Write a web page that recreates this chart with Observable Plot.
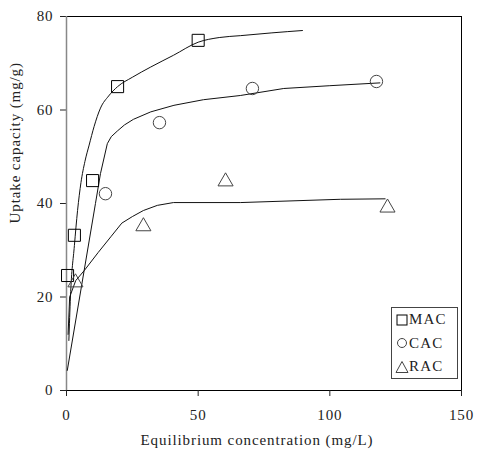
<!DOCTYPE html>
<html>
<head>
<meta charset="utf-8">
<script src="https://cdn.jsdelivr.net/npm/d3@7"></script>
<script src="https://cdn.jsdelivr.net/npm/@observablehq/plot@0.6"></script>
<style>
  html, body { margin: 0; padding: 0; background: white; }
  #wrap { position: relative; width: 477px; height: 452px; font-family: "Liberation Serif", "Times New Roman", serif; }
  #wrap svg text { letter-spacing: 0.9px; }
  #legend { position: absolute; left: 391px; top: 307px; width: 65px; height: 70px; border: 1px solid #444; background: white; font-size: 15px; color: #222; letter-spacing: 1.2px; }
  .row { display: flex; align-items: center; height: 23.5px; padding-left: 3px; }
  .row svg { margin-right: 0px; }
</style>
</head>
<body>
<div id="wrap"></div>
<script>
// ---- data ----
const xTicks = [0, 50, 100, 150];
const yTicks = [0, 20, 40, 60, 80];
const seriesNames = ["MAC", "CAC", "RAC"];

// experimental points
const macC = [0.4, 3, 9.9, 19.4, 50];
const macQ = [24.6, 33.2, 44.9, 65, 74.9];
const cacC = [14.8, 35.3, 70.6, 117.7];
const cacQ = [42.1, 57.3, 64.6, 66.1];
const racC = [3.4, 29.2, 60.4, 121.9];
const racQ = [23.1, 35.1, 44.7, 39.1];

// fitted curves
const macFitC = [0.9, 1.5, 3, 4.2, 5.5, 7, 8.6, 10.5, 12.9, 16, 19.4, 25, 32, 40.6, 50, 58, 66, 78, 89.6];
const macFitQ = [10.7, 20, 31, 38.5, 44.5, 49, 52.5, 56.5, 60.4, 63, 65, 67, 69.2, 71.7, 74.5, 75.5, 75.9, 76.5, 77];
const cacFitC = [0.3, 11, 12.9, 15.5, 17, 19.3, 22, 25.4, 32, 40.8, 52, 66, 82.5, 100, 119];
const cacFitQ = [4.3, 40, 46.4, 52.8, 54.3, 55.5, 56.8, 58, 59.6, 61, 62.2, 63.1, 64.6, 65.2, 65.8];
const racFitC = [0.6, 1.2, 3.5, 6.8, 12, 17, 21, 25, 29.2, 34.5, 40.6, 66, 104, 121];
const racFitQ = [12, 20, 23.5, 25.7, 29.5, 33, 35.8, 37.2, 38.5, 39.6, 40.2, 40.2, 40.9, 41];

const xLabel = "Equilibrium concentration (mg/L)";
const yLabel = "Uptake capacity (mg/g)";

// ---- build tables ----
const pts = (C, Q) => C.map((c, i) => ({c, q: Q[i]}));
const mac = pts(macC, macQ), cac = pts(cacC, cacQ), rac = pts(racC, racQ);
const macFit = pts(macFitC, macFitQ), cacFit = pts(cacFitC, cacFitQ), racFit = pts(racFitC, racFitQ);

const chart = Plot.plot({
  width: 477,
  height: 452,
  marginLeft: 66,
  marginRight: 16,
  marginTop: 16,
  marginBottom: 62,
  style: {fontFamily: "'Liberation Serif', 'Times New Roman', serif", fontSize: "15px", color: "#222", background: "white"},
  x: {domain: [0, 150], label: null},
  y: {domain: [0, 80], label: null},
  marks: [
    Plot.frame({stroke: "black"}),
    Plot.axisX({ticks: xTicks, tickSize: 6, tickPadding: 13, label: null, fontSize: 15}),
    Plot.axisY({ticks: yTicks, tickSize: 6, tickPadding: 7, label: null, fontSize: 15}),
    Plot.ruleX([0], {stroke: "#888", strokeWidth: 1.5}),
    Plot.line(macFit, {x: "c", y: "q", stroke: "#111", strokeWidth: 1, curve: "monotone-x"}),
    Plot.line(cacFit, {x: "c", y: "q", stroke: "#111", strokeWidth: 1}),
    Plot.line(racFit, {x: "c", y: "q", stroke: "#111", strokeWidth: 1}),
    Plot.dot(mac, {x: "c", y: "q", symbol: "square", r: 6.8, stroke: "black", fill: "none", strokeWidth: 1}),
    Plot.dot(cac, {x: "c", y: "q", symbol: "circle", r: 6.2, stroke: "#444", fill: "none", strokeWidth: 1}),
    Plot.dot(rac, {x: "c", y: "q", symbol: "triangle", r: 5.6, stroke: "#444", fill: "none", strokeWidth: 1}),
    Plot.text([xLabel], {frameAnchor: "bottom", dy: 54, dx: -7, fontSize: 15, fill: "#222"}),
    Plot.text([yLabel], {frameAnchor: "left", rotate: -90, dx: -51, dy: 20, fontSize: 15, fill: "#222"})
  ]
});

const wrap = document.getElementById("wrap");
wrap.appendChild(chart);

// legend
const legend = document.createElement("div");
legend.id = "legend";
const symbols = {
  MAC: '<rect x="2" y="2" width="10" height="10" fill="none" stroke="black"/>',
  CAC: '<circle cx="7" cy="7" r="4.5" fill="none" stroke="#444"/>',
  RAC: '<path d="M7,1.5 L13,12.5 L1,12.5 Z" fill="none" stroke="#444"/>'
};
seriesNames.forEach(name => {
  const row = document.createElement("div");
  row.className = "row";
  row.innerHTML = `<svg width="14" height="14">${symbols[name]}</svg><span>${name}</span>`;
  legend.appendChild(row);
});
wrap.appendChild(legend);
</script>
</body>
</html>
